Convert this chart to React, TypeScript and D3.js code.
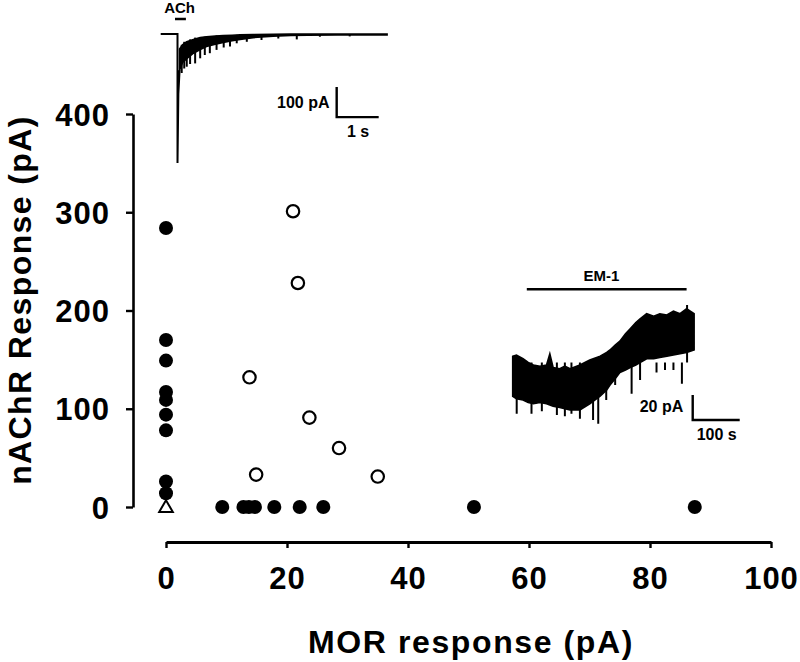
import * as d3 from "d3";
import React, { useRef, useEffect } from "react";

const width = 800;
const height = 662;
const font = "'Liberation Sans', Arial, Helvetica, sans-serif";

// scatter values (pA)
const filledMor = [0, 0, 0, 0, 0, 0, 0, 0, 0, 9.3, 12.8, 13.7, 14.7, 17.9, 22.1, 26.0, 50.9, 87.4];
const filledNachr = [284, 170, 149, 117, 109, 94, 78, 26, 14, 0, 0, 0, 0, 0, 0, 0, 0, 0];
const openMor = [21.0, 21.8, 13.8, 23.7, 28.6, 14.9, 35.0];
const openNachr = [301, 228, 132, 91, 60, 33, 31];
const triangleMor = [0];
const triangleNachr = [0];

const xTicks = [0, 20, 40, 60, 80, 100];
const yTicks = [0, 100, 200, 300, 400];

// ACh evoked current inset (s, pA)
const achBaseT = [0, 0.4, 0.4, 0.42, 0.45];
const achBaseV = [0, 0, -430, -200, -120];
const achT = [0.45, 0.52, 0.62, 0.78, 0.94, 1.09, 1.3, 1.49, 1.7, 1.89, 2.2, 2.68, 3.1, 3.5, 4.2, 5.39];
const achUpper = [-50, -36, -26, -18, -12, -9, -7, -5, -4, -3, -2, -1, 0, 0, 0, 0];
const achLower = [-120, -95, -82, -64, -52, -42, -34, -28, -22, -18, -12, -7, -5, -4, -3, -3];
const achSpikeT = [0.5, 0.56, 0.62, 0.7, 0.82, 0.94, 1.05, 1.17, 1.33, 1.5, 1.65, 1.81, 2.05, 2.4, 2.8, 3.24, 3.79, 4.5];
const achSpikeV = [-130, -115, -109, -100, -98, -81, -70, -64, -53, -45, -42, -31, -26, -20, -15, -18, -9, -8];

// EM-1 outward current inset (s, pA)
const emT = [0, 8, 22, 33, 44, 58, 72, 79, 86, 100, 111, 122, 143, 164, 186, 200, 207, 218, 228, 240, 250, 262, 271, 285, 300, 313, 328, 342, 356, 370, 386];
const emUpper = [15, 16, 13, 10, 8, 7, 8, 17, 6, 5, 7, 5, 8, 12, 15, 18, 20, 24, 27, 33, 37, 42, 45, 49, 47, 49, 48, 51, 49, 53, 49];
const emLower = [-17, -19, -20, -22, -23, -22, -23, -24, -25, -26, -27, -28, -28, -23, -17, -12, -8, -3, 2, 4, 6, 8, 10, 13, 13, 14, 15, 16, 17, 18, 20];
const emSpikeT = [8.5, 40, 62, 94, 111, 125, 143, 171, 182, 199, 218, 253, 271, 306, 324, 342, 360, 371];
const emSpikeV = [-31, -31, -29, -32, -33, -31, -35, -36, -39, -20, -8, -15, -4, 2, 4, 4, -7, 56];

function App() {
  const ref = useRef<SVGSVGElement>(null);

  useEffect(() => {
    const svg = d3.select(ref.current);
    svg.selectAll("*").remove();

    const x = d3.scaleLinear().domain([0, 100]).range([166, 771]);
    const y = d3.scaleLinear().domain([0, 400]).range([507, 114]);

    // y axis
    const yAxis = svg
      .append("g")
      .attr("transform", "translate(133,0)")
      .call(d3.axisLeft(y).tickValues(yTicks).tickSize(7).tickPadding(16).tickSizeOuter(0));
    yAxis.select(".domain").attr("stroke-width", 2.6);
    yAxis.selectAll(".tick line").attr("stroke-width", 2.4);
    yAxis
      .selectAll(".tick text")
      .attr("font-family", font)
      .attr("font-weight", "bold")
      .attr("font-size", 31)
      .attr("letter-spacing", 1)
      .attr("dy", "0.36em");

    // x axis
    const xAxis = svg
      .append("g")
      .attr("transform", "translate(0,542)")
      .call(d3.axisBottom(x).tickValues(xTicks).tickSize(6).tickPadding(19).tickSizeOuter(0));
    xAxis.select(".domain").attr("stroke-width", 2.8);
    xAxis.selectAll(".tick line").attr("stroke-width", 2.4);
    xAxis
      .selectAll(".tick text")
      .attr("font-family", font)
      .attr("font-weight", "bold")
      .attr("font-size", 31)
      .attr("letter-spacing", 1);

    // axis titles
    svg
      .append("text")
      .attr("x", 471)
      .attr("y", 653)
      .attr("text-anchor", "middle")
      .attr("font-family", font)
      .attr("font-weight", "bold")
      .attr("font-size", 32)
      .attr("letter-spacing", 1.6)
      .text("MOR response (pA)");

    svg
      .append("text")
      .attr("transform", "translate(31,300) rotate(-90)")
      .attr("text-anchor", "middle")
      .attr("font-family", font)
      .attr("font-weight", "bold")
      .attr("font-size", 32)
      .attr("letter-spacing", 1.4)
      .text("nAChR Response (pA)");

    // points
    svg
      .append("g")
      .selectAll("circle")
      .data(filledMor)
      .join("circle")
      .attr("cx", (d) => x(d))
      .attr("cy", (d, i) => y(filledNachr[i]))
      .attr("r", 7)
      .attr("fill", "#000");

    svg
      .append("g")
      .selectAll("circle")
      .data(openMor)
      .join("circle")
      .attr("cx", (d) => x(d))
      .attr("cy", (d, i) => y(openNachr[i]))
      .attr("r", 6.2)
      .attr("fill", "#fff")
      .attr("stroke", "#000")
      .attr("stroke-width", 2.2);

    svg
      .append("g")
      .selectAll("path")
      .data(triangleMor)
      .join("path")
      .attr("d", d3.symbol(d3.symbolTriangle, 80)())
      .attr("transform", (d, i) => `translate(${x(d)},${y(triangleNachr[i]) + 1})`)
      .attr("fill", "#fff")
      .attr("stroke", "#000")
      .attr("stroke-width", 2);

    // ACh inset
    const ax = d3.scaleLinear().domain([0, 1]).range([160.7, 202.7]);
    const ay = d3.scaleLinear().domain([0, -100]).range([34, 64]);
    const ach = svg.append("g");
    const achIdx = d3.bisector((d: number) => d).left;

    ach
      .append("path")
      .datum(achBaseT)
      .attr(
        "d",
        d3
          .line<number>()
          .x((d) => ax(d))
          .y((d, i) => ay(achBaseV[i]))
      )
      .attr("fill", "none")
      .attr("stroke", "#000")
      .attr("stroke-width", 2);

    ach
      .append("path")
      .datum(achT)
      .attr(
        "d",
        d3
          .area<number>()
          .x((d) => ax(d))
          .y0((d, i) => ay(achLower[i]))
          .y1((d, i) => ay(achUpper[i]))
      )
      .attr("fill", "#000")
      .attr("stroke", "#000")
      .attr("stroke-width", 1.6);

    ach
      .selectAll(".spike")
      .data(achSpikeT)
      .join("line")
      .attr("x1", (d) => ax(d))
      .attr("x2", (d) => ax(d))
      .attr("y1", (d) => ay(achUpper[Math.min(achIdx(achT, d), achT.length - 1)]))
      .attr("y2", (d, i) => ay(achSpikeV[i]))
      .attr("stroke", "#000")
      .attr("stroke-width", 2);

    // ACh application bar
    ach
      .append("line")
      .attr("x1", ax(0.34))
      .attr("x2", ax(0.6))
      .attr("y1", ay(50))
      .attr("y2", ay(50))
      .attr("stroke", "#000")
      .attr("stroke-width", 2.5);
    ach
      .append("text")
      .attr("x", ax(0.45))
      .attr("y", ay(71))
      .attr("text-anchor", "middle")
      .attr("font-family", font)
      .attr("font-weight", "bold")
      .attr("font-size", 15)
      .text("ACh");

    // ACh scale bar: 100 pA, 1 s
    ach
      .append("path")
      .attr("d", `M${ax(4.19)},${ay(-177)}V${ay(-277)}H${ax(5.19)}`)
      .attr("fill", "none")
      .attr("stroke", "#000")
      .attr("stroke-width", 2.4);
    ach
      .append("text")
      .attr("x", ax(4.02))
      .attr("y", ay(-248))
      .attr("text-anchor", "end")
      .attr("font-family", font)
      .attr("font-weight", "bold")
      .attr("font-size", 16)
      .text("100 pA");
    ach
      .append("text")
      .attr("x", ax(4.7))
      .attr("y", ay(-342))
      .attr("text-anchor", "middle")
      .attr("font-family", font)
      .attr("font-weight", "bold")
      .attr("font-size", 16)
      .text("1 s");

    // EM-1 inset
    const ex = d3.scaleLinear().domain([0, 100]).range([512.7, 559.7]);
    const ey = d3.scaleLinear().domain([0, 20]).range([375, 350]);
    const em = svg.append("g");

    em
      .append("path")
      .datum(emT)
      .attr(
        "d",
        d3
          .area<number>()
          .x((d) => ex(d))
          .y0((d, i) => ey(emLower[i]))
          .y1((d, i) => ey(emUpper[i]))
      )
      .attr("fill", "#000")
      .attr("stroke", "#000")
      .attr("stroke-width", 1.6);

    em
      .selectAll(".spike")
      .data(emSpikeT)
      .join("line")
      .attr("x1", (d) => ex(d))
      .attr("x2", (d) => ex(d))
      .attr("y1", (d) => ey(10))
      .attr("y2", (d, i) => ey(emSpikeV[i]))
      .attr("stroke", "#000")
      .attr("stroke-width", 2);

    em
      .append("line")
      .attr("x1", ex(30))
      .attr("x2", ex(370))
      .attr("y1", ey(68.6))
      .attr("y2", ey(68.6))
      .attr("stroke", "#000")
      .attr("stroke-width", 2.4);
    em
      .append("text")
      .attr("x", ex(189))
      .attr("y", ey(75))
      .attr("text-anchor", "middle")
      .attr("font-family", font)
      .attr("font-weight", "bold")
      .attr("font-size", 15)
      .text("EM-1");

    // EM-1 scale bar: 20 pA, 100 s
    em
      .append("path")
      .attr("d", `M${ex(383)},${ey(-16)}V${ey(-36)}H${ex(483)}`)
      .attr("fill", "none")
      .attr("stroke", "#000")
      .attr("stroke-width", 2.4);
    em
      .append("text")
      .attr("x", ex(363))
      .attr("y", ey(-29.5))
      .attr("text-anchor", "end")
      .attr("font-family", font)
      .attr("font-weight", "bold")
      .attr("font-size", 16)
      .text("20 pA");
    em
      .append("text")
      .attr("x", ex(434))
      .attr("y", ey(-52))
      .attr("text-anchor", "middle")
      .attr("font-family", font)
      .attr("font-weight", "bold")
      .attr("font-size", 16)
      .text("100 s");
  }, []);

  return (
    <svg
      ref={ref}
      width={width}
      height={height}
      style={{ position: "absolute", left: 0, top: 0, background: "#fff" }}
    ></svg>
  );
}

export default App;
